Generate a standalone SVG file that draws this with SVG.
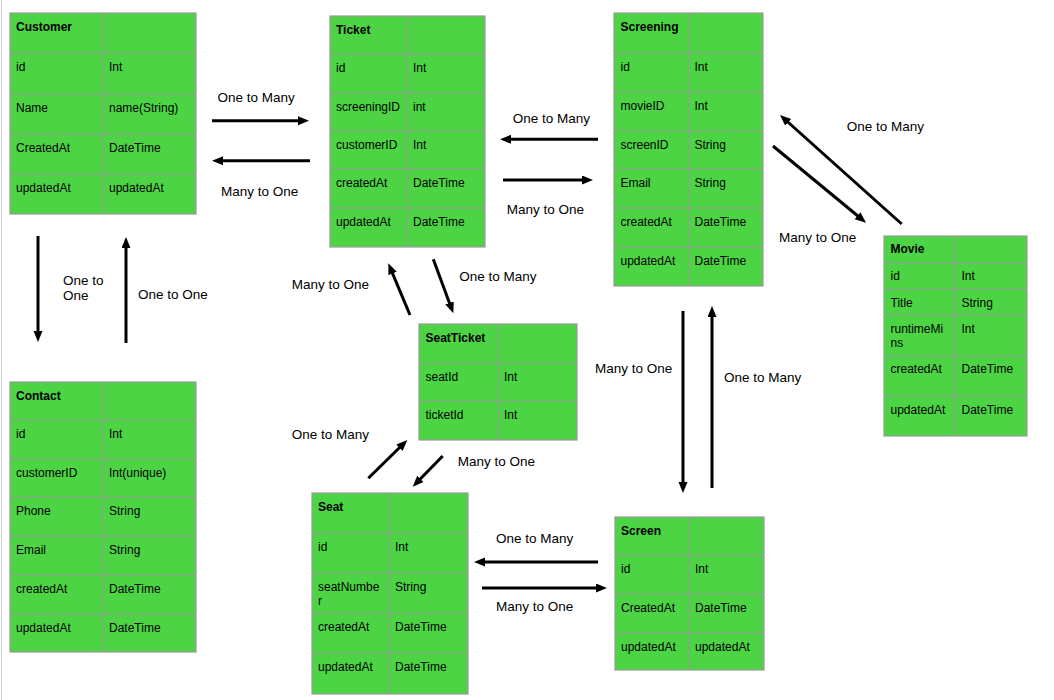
<svg xmlns="http://www.w3.org/2000/svg" width="1054" height="700" viewBox="0 0 1054 700">
<style>
.tb{fill:#4cd444;stroke:#999;stroke-width:1.2}
.gl{stroke:#999;stroke-width:1;fill:none}
.t{font-family:"Liberation Sans",Arial,sans-serif;font-size:12px;fill:#000}
.h{font-weight:bold}
.lb{font-family:"Liberation Sans",Arial,sans-serif;font-size:13.5px;fill:#000}
.ar{stroke:#000;stroke-width:3;fill:none;marker-end:url(#ah)}
</style>
<defs>
<marker id="ah" markerUnits="userSpaceOnUse" markerWidth="12" markerHeight="10" refX="2" refY="4.5" orient="auto">
<path d="M0,0 L11,4.5 L0,9 z" fill="#000"/>
</marker>
</defs>
<rect width="1054" height="700" fill="#fff"/>
<line x1="1.5" y1="0" x2="1.5" y2="700" stroke="#d0d0d0" stroke-width="1"/>

<g id="customer">
<rect class="tb" x="10" y="13" width="186" height="201"/>
<path class="gl" d="M103.5,13V214M10,53H196M10,94H196M10,134H196M10,174H196"/>
<text class="t h" x="16" y="31">Customer</text>
<text class="t" x="16" y="71">id</text><text class="t" x="109" y="71">Int</text>
<text class="t" x="16" y="112">Name</text><text class="t" x="109" y="112">name(String)</text>
<text class="t" x="16" y="152">CreatedAt</text><text class="t" x="109" y="152">DateTime</text>
<text class="t" x="16" y="192">updatedAt</text><text class="t" x="109" y="192">updatedAt</text>
</g>

<g id="ticket">
<rect class="tb" x="330" y="16" width="155" height="231"/>
<path class="gl" d="M407.5,16V247M330,54H485M330,93H485M330,131H485M330,169H485M330,208H485"/>
<text class="t h" x="336" y="34">Ticket</text>
<text class="t" x="336" y="72">id</text><text class="t" x="413" y="72">Int</text>
<text class="t" x="336" y="111">screeningID</text><text class="t" x="413" y="111">int</text>
<text class="t" x="336" y="149">customerID</text><text class="t" x="413" y="149">Int</text>
<text class="t" x="336" y="187">createdAt</text><text class="t" x="413" y="187">DateTime</text>
<text class="t" x="336" y="226">updatedAt</text><text class="t" x="413" y="226">DateTime</text>
</g>

<g id="screening">
<rect class="tb" x="614" y="13" width="149" height="273"/>
<path class="gl" d="M688.5,13V286M614,53H763M614,92H763M614,131H763M614,169H763M614,208H763M614,247H763"/>
<text class="t h" x="620.5" y="31">Screening</text>
<text class="t" x="620.5" y="71">id</text><text class="t" x="694.5" y="71">Int</text>
<text class="t" x="620.5" y="110">movieID</text><text class="t" x="694.5" y="110">Int</text>
<text class="t" x="620.5" y="149">screenID</text><text class="t" x="694.5" y="149">String</text>
<text class="t" x="620.5" y="187">Email</text><text class="t" x="694.5" y="187">String</text>
<text class="t" x="620.5" y="226">createdAt</text><text class="t" x="694.5" y="226">DateTime</text>
<text class="t" x="620.5" y="265">updatedAt</text><text class="t" x="694.5" y="265">DateTime</text>
</g>

<g id="movie">
<rect class="tb" x="884" y="236" width="143" height="200"/>
<path class="gl" d="M955.5,236V436M884,263H1027M884,289H1027M884,315H1027M884,356H1027M884,396H1027"/>
<text class="t h" x="890.5" y="253">Movie</text>
<text class="t" x="890.5" y="280">id</text><text class="t" x="961.5" y="280">Int</text>
<text class="t" x="890.5" y="307">Title</text><text class="t" x="961.5" y="307">String</text>
<text class="t" x="890.5" y="332.5">runtimeMi</text><text class="t" x="890.5" y="346.5">ns</text><text class="t" x="961.5" y="332.5">Int</text>
<text class="t" x="890.5" y="373">createdAt</text><text class="t" x="961.5" y="373">DateTime</text>
<text class="t" x="890.5" y="414">updatedAt</text><text class="t" x="961.5" y="414">DateTime</text>
</g>

<g id="seatticket">
<rect class="tb" x="419" y="324" width="158" height="116"/>
<path class="gl" d="M498.5,324V440M419,363H577M419,401H577"/>
<text class="t h" x="425.5" y="342">SeatTicket</text>
<text class="t" x="425.5" y="381">seatId</text><text class="t" x="504" y="381">Int</text>
<text class="t" x="425.5" y="419">ticketId</text><text class="t" x="504" y="419">Int</text>
</g>

<g id="contact">
<rect class="tb" x="10" y="382" width="186" height="270"/>
<path class="gl" d="M103.5,382V652M10,420H196M10,459H196M10,497H196M10,536H196M10,575H196M10,614H196"/>
<text class="t h" x="16" y="400">Contact</text>
<text class="t" x="16" y="438">id</text><text class="t" x="109" y="438">Int</text>
<text class="t" x="16" y="477">customerID</text><text class="t" x="109" y="477">Int(unique)</text>
<text class="t" x="16" y="515">Phone</text><text class="t" x="109" y="515">String</text>
<text class="t" x="16" y="554">Email</text><text class="t" x="109" y="554">String</text>
<text class="t" x="16" y="593">createdAt</text><text class="t" x="109" y="593">DateTime</text>
<text class="t" x="16" y="632">updatedAt</text><text class="t" x="109" y="632">DateTime</text>
</g>

<g id="seat">
<rect class="tb" x="312" y="493" width="156" height="201"/>
<path class="gl" d="M389,493V694M312,533H468M312,573H468M312,613H468M312,653H468"/>
<text class="t h" x="318" y="511">Seat</text>
<text class="t" x="318" y="551">id</text><text class="t" x="395" y="551">Int</text>
<text class="t" x="318" y="591">seatNumbe</text><text class="t" x="318" y="605">r</text><text class="t" x="395" y="591">String</text>
<text class="t" x="318" y="631">createdAt</text><text class="t" x="395" y="631">DateTime</text>
<text class="t" x="318" y="671">updatedAt</text><text class="t" x="395" y="671">DateTime</text>
</g>

<g id="screen">
<rect class="tb" x="615" y="517" width="149" height="153"/>
<path class="gl" d="M689,517V670M615,555H764M615,594H764M615,633H764"/>
<text class="t h" x="621" y="535">Screen</text>
<text class="t" x="621" y="573">id</text><text class="t" x="695" y="573">Int</text>
<text class="t" x="621" y="612">CreatedAt</text><text class="t" x="695" y="612">DateTime</text>
<text class="t" x="621" y="651">updatedAt</text><text class="t" x="695" y="651">updatedAt</text>
</g>

<g id="connectors">
<line class="ar" x1="212" y1="120.7" x2="300" y2="120.7"/>
<line class="ar" x1="310" y1="160.7" x2="221" y2="160.7"/>
<line class="ar" x1="598" y1="139.3" x2="509" y2="139.3"/>
<line class="ar" x1="503" y1="180" x2="584" y2="180"/>
<line class="ar" x1="901.7" y1="224" x2="786.7" y2="121"/>
<line class="ar" x1="773" y1="146" x2="859.1" y2="217"/>
<line class="ar" x1="38" y1="236" x2="38" y2="333"/>
<line class="ar" x1="126" y1="343" x2="126" y2="246"/>
<line class="ar" x1="410" y1="315" x2="391.8" y2="271.6"/>
<line class="ar" x1="433.3" y1="259.3" x2="450.2" y2="304.9"/>
<line class="ar" x1="368.3" y1="478.3" x2="400.9" y2="446.3"/>
<line class="ar" x1="442.7" y1="456" x2="419" y2="480.3"/>
<line class="ar" x1="598" y1="562" x2="483" y2="562"/>
<line class="ar" x1="482" y1="588" x2="598" y2="588"/>
<line class="ar" x1="683" y1="311" x2="683" y2="484"/>
<line class="ar" x1="712" y1="488" x2="712" y2="315"/>
<text class="lb" x="217.5" y="102">One to Many</text>
<text class="lb" x="221" y="196">Many to One</text>
<text class="lb" x="512.7" y="122.5">One to Many</text>
<text class="lb" x="506.7" y="214">Many to One</text>
<text class="lb" x="846.7" y="131">One to Many</text>
<text class="lb" x="779" y="241.5">Many to One</text>
<text class="lb" x="291.7" y="289">Many to One</text>
<text class="lb" x="459.3" y="280.5">One to Many</text>
<text class="lb" x="291.7" y="438.5">One to Many</text>
<text class="lb" x="457.7" y="465.5">Many to One</text>
<text class="lb" x="63" y="285">One to</text>
<text class="lb" x="63" y="300">One</text>
<text class="lb" x="138" y="299">One to One</text>
<text class="lb" x="595" y="373">Many to One</text>
<text class="lb" x="724" y="382">One to Many</text>
<text class="lb" x="496" y="543">One to Many</text>
<text class="lb" x="496" y="611">Many to One</text>
</g>
</svg>
